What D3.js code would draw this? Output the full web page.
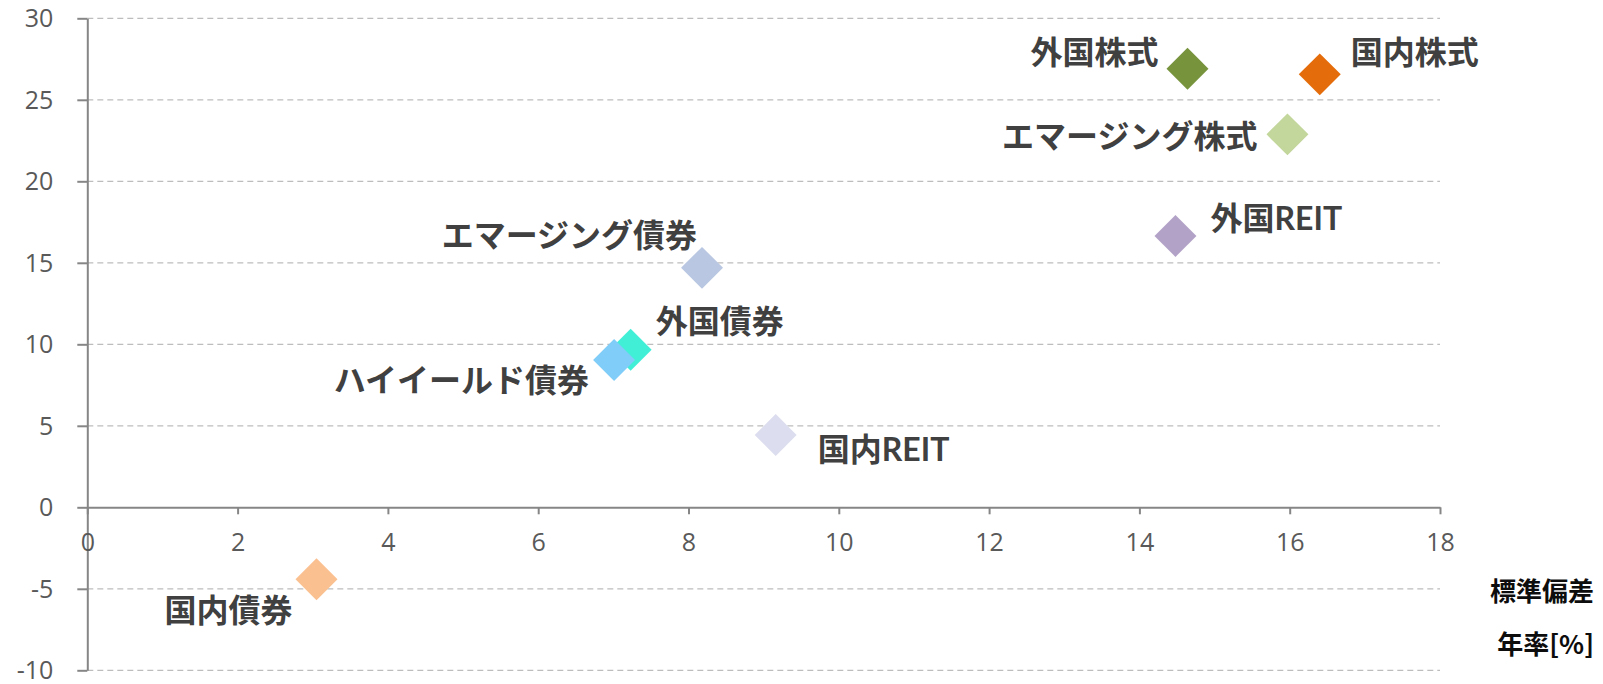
<!DOCTYPE html>
<html>
<head>
<meta charset="utf-8">
<script src="https://cdn.jsdelivr.net/npm/d3@7/dist/d3.min.js"></script>
<style>
  html, body { margin: 0; padding: 0; background: #ffffff; }
  svg { display: block; }
</style>
</head>
<body>
<svg id="chart" width="1603" height="684"></svg>
<script>
// ---- data ----
const assetNames = ["国内債券", "国内株式", "外国債券", "外国株式", "国内REIT", "外国REIT", "エマージング債券", "エマージング株式", "ハイイールド債券"];
const stdDevValues = [3.05, 16.40, 7.23, 14.64, 9.16, 14.48, 8.18, 15.97, 7.01];
const returnValues = [-4.42, 26.56, 9.67, 26.90, 4.44, 16.65, 14.69, 22.88, 9.04];
const xTickValues = [0, 2, 4, 6, 8, 10, 12, 14, 16, 18];
const yTickValues = [-10, -5, 0, 5, 10, 15, 20, 25, 30];
const xAxisTitle = ["標準偏差", "年率[%]"];

// ---- styles ----
const markerColors = {
  "国内債券": "#FAC090",
  "国内株式": "#E46C0A",
  "外国債券": "#41EFD7",
  "外国株式": "#77933C",
  "国内REIT": "#DCDDEE",
  "外国REIT": "#B3A2C7",
  "エマージング債券": "#B9C7E2",
  "エマージング株式": "#C3D69B",
  "ハイイールド債券": "#7FCDF8"
};
// label placement relative to the marker centre (pixels)
const labelPlacement = {
  "国内債券": { dx: -24, dy: 30, anchor: "end" },
  "国内株式": { dx: 31, dy: -23, anchor: "start" },
  "外国債券": { dx: 25, dy: -29, anchor: "start" },
  "外国株式": { dx: -29, dy: -17, anchor: "end" },
  "国内REIT": { dx: 42, dy: 14, anchor: "start" },
  "外国REIT": { dx: 35, dy: -18, anchor: "start" },
  "エマージング債券": { dx: -5, dy: -33, anchor: "end" },
  "エマージング株式": { dx: -30, dy: 1, anchor: "end" },
  "ハイイールド債券": { dx: -25, dy: 20, anchor: "end" }
};

const points = assetNames.map((n, i) => ({ name: n, sd: stdDevValues[i], ret: returnValues[i] }));

const svg = d3.select("#chart");
const x = d3.scaleLinear().domain([0, 18]).range([87.3, 1440]);
const y = d3.scaleLinear().domain([-10, 30]).range([670.3, 18.3]);

const tickFont = "'Open Sans', 'Noto Sans', sans-serif";
const cjkFont = "'Lato', 'Noto Sans CJK JP', sans-serif";
const titleFont = "'Noto Sans CJK JP', sans-serif";

// gridlines
svg.append("g")
  .selectAll("line")
  .data(yTickValues.filter(v => v !== 0))
  .join("line")
  .attr("x1", x(0)).attr("x2", x(18))
  .attr("y1", d => y(d)).attr("y2", d => y(d))
  .attr("stroke", "#bdbdbd")
  .attr("stroke-width", 1.2)
  .attr("stroke-dasharray", "6,4");

// y axis
const yAxis = svg.append("g")
  .attr("transform", `translate(${x(0)},0)`)
  .call(d3.axisLeft(y).tickValues(yTickValues).tickFormat(d => String(d)).tickSize(10).tickPadding(24).tickSizeOuter(0));
yAxis.select(".domain").attr("stroke", "#868686").attr("stroke-width", 2);
yAxis.selectAll(".tick line").attr("stroke", "#868686").attr("stroke-width", 2);
yAxis.selectAll(".tick text")
  .attr("fill", "#595959")
  .attr("font-family", tickFont)
  .attr("font-size", 25)
  .attr("dy", "0.34em");

// x axis at y = 0
const xAxis = svg.append("g")
  .attr("transform", `translate(0,${y(0)})`)
  .call(d3.axisBottom(x).tickValues(xTickValues).tickFormat(d => String(d)).tickSize(7).tickPadding(28).tickSizeOuter(0));
xAxis.select(".domain").attr("stroke", "#868686").attr("stroke-width", 2);
xAxis.selectAll(".tick line").attr("stroke", "#868686").attr("stroke-width", 2);
xAxis.selectAll(".tick text")
  .attr("fill", "#595959")
  .attr("font-family", tickFont)
  .attr("font-size", 25)
  .attr("dy", "0.36em");

// markers
const diamond = d3.symbol().type(d3.symbolSquare).size(880);
svg.append("g")
  .selectAll("path")
  .data(points)
  .join("path")
  .attr("d", diamond)
  .attr("transform", d => `translate(${x(d.sd)},${y(d.ret)}) rotate(45)`)
  .attr("fill", d => markerColors[d.name]);

// labels
svg.append("g")
  .selectAll("text")
  .data(points)
  .join("text")
  .attr("x", d => x(d.sd) + labelPlacement[d.name].dx)
  .attr("y", d => y(d.ret) + labelPlacement[d.name].dy)
  .attr("text-anchor", d => labelPlacement[d.name].anchor)
  .attr("dominant-baseline", "central")
  .attr("font-family", cjkFont)
  .attr("font-weight", "bold")
  .attr("font-size", 32)
  .attr("fill", "#404040")
  .text(d => d.name);

// axis title
svg.append("g")
  .selectAll("text")
  .data(xAxisTitle)
  .join("text")
  .attr("x", 1594)
  .attr("y", (d, i) => 589 + i * 53)
  .attr("text-anchor", "end")
  .attr("dominant-baseline", "central")
  .attr("font-family", titleFont)
  .attr("font-weight", "bold")
  .attr("font-size", 26)
  .attr("fill", "#0d0d0d")
  .text(d => d);
</script>
</body>
</html>
